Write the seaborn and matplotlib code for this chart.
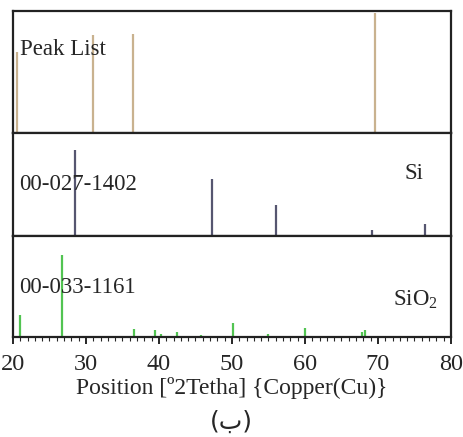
import matplotlib
matplotlib.use("Agg")
import matplotlib.pyplot as plt
from matplotlib.ticker import MultipleLocator
import seaborn as sns

# ---------------------------------------------------------------------------
# Data
# ---------------------------------------------------------------------------
peak_pos = [20.6, 31.0, 36.4, 69.6]
peak_int = [0.66, 0.80, 0.81, 0.98]

si_pos = [28.5, 47.3, 56.1, 69.2, 76.4]
si_int = [0.83, 0.55, 0.30, 0.06, 0.12]

sio2_pos = [20.9, 26.7, 36.6, 39.5, 40.3, 42.5, 45.8, 50.2, 54.9, 60.0, 67.8, 68.2]
sio2_int = [0.22, 0.81, 0.08, 0.07, 0.03, 0.05, 0.02, 0.14, 0.03, 0.09, 0.05, 0.07]

# label, y of label, phase name, (x, y) of phase name
panels = [
    ("Peak List", 0.68, None, None, peak_pos, peak_int, "#c9b28f"),
    ("00-027-1402", 0.50, "Si", (0.915, 0.61), si_pos, si_int, "#565670"),
    ("00-033-1161", 0.49, "SiO$_2$", (0.92, 0.37), sio2_pos, sio2_int, "#52c452"),
]

sns.set_style("ticks")
plt.rcParams["font.family"] = ["Liberation Serif", "DejaVu Sans"]
plt.rcParams["mathtext.fontset"] = "custom"
plt.rcParams["mathtext.rm"] = "Liberation Serif"
plt.rcParams["mathtext.it"] = "Liberation Serif"

fig, axes = plt.subplots(
    3, 1, figsize=(4.63, 4.37), dpi=100, sharex=True,
    gridspec_kw={"height_ratios": [122, 103, 101], "hspace": 0},
)
fig.subplots_adjust(left=0.028, right=0.974, top=0.975, bottom=0.229)

for ax, (label, ly, phase, pxy, pos, inten, color) in zip(axes, panels):
    ax.vlines(pos, 0, inten, color=color, linewidth=1.6)
    ax.set_ylim(0, 1)
    ax.set_xlim(20, 80)
    ax.set_yticks([])
    for sp in ax.spines.values():
        sp.set_linewidth(1.6)
        sp.set_color("#222222")
    ax.tick_params(axis="x", which="both", bottom=False, labelbottom=False)
    ax.text(0.015, ly, label, transform=ax.transAxes, fontsize=16.5,
            va="center", ha="left")
    if phase:
        ax.text(pxy[0], pxy[1], phase, transform=ax.transAxes,
                fontsize=16.5, va="center", ha="center")

ax = axes[-1]
ax.xaxis.set_major_locator(MultipleLocator(10))
ax.xaxis.set_minor_locator(MultipleLocator(1))
ax.tick_params(axis="x", which="major", bottom=True, labelbottom=True,
               direction="out", length=5, width=1.4, labelsize=17.5, pad=7)
ax.tick_params(axis="x", which="minor", bottom=True, direction="out",
               length=3, width=0.8)
ax.set_xlabel("Position [º2Tetha] {Copper(Cu)}", fontsize=17, labelpad=2)
fig.text(0.5, 0.035, "(ب)", ha="center", va="center", fontsize=18,
         family=["DejaVu Sans"])

plt.savefig("out.png", dpi=100)
